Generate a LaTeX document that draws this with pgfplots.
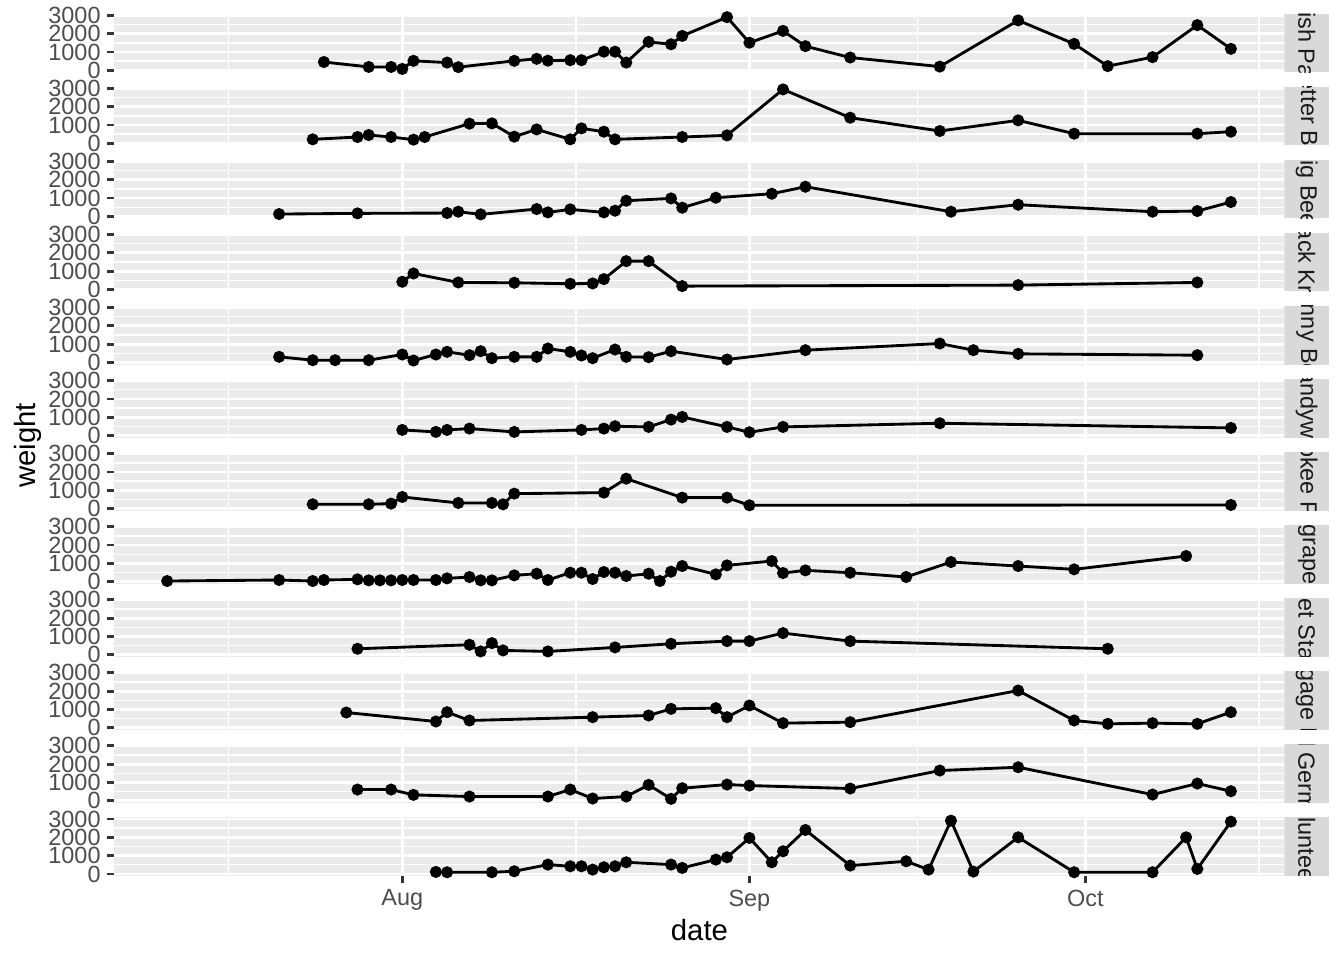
\documentclass[border=0pt]{standalone}
\usepackage{pgfplots}
\pgfplotsset{compat=1.18}
\usepackage{fontspec}
\setmainfont{Liberation Sans}
\definecolor{panelbg}{HTML}{EBEBEB}
\definecolor{stripbg}{HTML}{D9D9D9}
\definecolor{tickc}{HTML}{333333}
\definecolor{ticklab}{HTML}{4D4D4D}
\definecolor{striptext}{HTML}{1A1A1A}
\pgfplotsset{
 ser/.style={black, line width=1.07bp, mark=*, mark size=1.7bp, mark options={solid, fill=black, draw=none}},
 panel/.style={
  scale only axis, width=438.8bp, height=21.98bp, anchor=south west,
  xmin=-25.72, xmax=78.78, ymin=-110, ymax=3090,
  axis background/.style={fill=panelbg},
  axis line style={draw=none},
  xtick={0,31,61}, minor xtick={-15.5,15.5,46,76.5},
  ytick={0,1000,2000,3000}, minor ytick={500,1500,2500},
  xmajorgrids, ymajorgrids, xminorgrids, yminorgrids,
  major grid style={white, line width=1.07bp},
  minor grid style={white, line width=0.53bp},
  tick align=outside, major tick length=2.75bp, minor tick length=0pt,
  tick style={draw=tickc, line width=1.07bp},
  tick pos=left,
  xticklabels={}, x tick style={draw=none},
  /pgf/number format/assume math mode=true,
  /pgf/number format/set thousands separator={},
  yticklabel style={font=\fontsize{8.83}{9}\selectfont, text=ticklab, inner sep=0pt, xshift=-2.2bp},
  clip=false,
 },
 bottompanel/.style={xticklabels={Aug,Sep,Oct}, x tick style={draw=tickc},
  xticklabel style={font=\fontsize{8.83}{9}\selectfont, text=ticklab, inner sep=0pt, yshift=-2.2bp}},
}
\begin{document}
\begin{tikzpicture}
\path[use as bounding box] (0,0) rectangle (504bp,360bp);
% 1 Amish Paste
\begin{axis}[panel, at={(42.86bp,332.89bp)}]
\addplot[ser] coordinates {(-7,452) (-3,181) (-1,181) (0,72) (1,515) (4,420) (5,170) (10,515) (12,625) (13,525) (15,550) (16,550) (18,1015) (19,1015) (20,420) (22,1550) (24,1420) (25,1875) (29,2900) (31,1505) (34,2150) (36,1315) (40,695) (48,200) (55,2725) (60,1440) (63,225) (67,715) (71,2465) (74,1170)};
\end{axis}
% 2 Better Boy
\begin{axis}[panel, at={(42.86bp,305.49bp)}]
\addplot[ser] coordinates {(-8,218) (-4,345) (-3,455) (-1,345) (1,200) (2,345) (6,1073) (8,1090) (10,364) (12,760) (15,218) (16,818) (18,636) (19,218) (25,345) (29,436) (34,2945) (40,1400) (48,673) (55,1255) (60,527) (71,527) (74,636)};
\end{axis}
% 3 Big Beef
\begin{axis}[panel, at={(42.86bp,278.10bp)}]
\addplot[ser] coordinates {(-11,127) (-4,164) (4,182) (5,255) (7,109) (12,400) (13,218) (15,382) (18,218) (19,309) (20,855) (24,982) (25,473) (28,1018) (33,1236) (36,1618) (49,255) (55,636) (67,255) (71,291) (74,782)};
\end{axis}
% 4 Black Krim
\begin{axis}[panel, at={(42.86bp,250.70bp)}]
\addplot[ser] coordinates {(0,418) (1,873) (5,382) (10,364) (15,309) (17,327) (18,564) (20,1545) (22,1545) (25,182) (55,236) (71,382)};
\end{axis}
% 5 Bonny Best
\begin{axis}[panel, at={(42.86bp,223.30bp)}]
\addplot[ser] coordinates {(-11,309) (-8,127) (-6,127) (-3,127) (0,436) (1,109) (3,436) (4,582) (6,400) (7,618) (8,236) (10,309) (12,309) (13,764) (15,582) (16,382) (17,236) (19,709) (20,309) (22,291) (24,618) (29,164) (36,673) (48,1036) (51,673) (55,473) (71,400)};
\end{axis}
% 6 Brandywine
\begin{axis}[panel, at={(42.86bp,195.90bp)}]
\addplot[ser] coordinates {(0,309) (3,200) (4,309) (6,382) (10,200) (16,309) (18,382) (19,509) (22,473) (24,873) (25,1018) (29,473) (31,182) (34,473) (48,673) (74,418)};
\end{axis}
% 7 Cherokee Purple
\begin{axis}[panel, at={(42.86bp,168.51bp)}]
\addplot[ser] coordinates {(-8,236) (-3,236) (-1,273) (0,636) (5,309) (8,309) (9,236) (10,818) (18,873) (20,1636) (25,600) (29,600) (31,182) (74,200)};
\end{axis}
% 8 grape
\begin{axis}[panel, at={(42.86bp,141.11bp)}]
\addplot[ser] coordinates {(-21,36) (-11,91) (-8,36) (-7,91) (-4,127) (-3,73) (-2,73) (-1,73) (0,91) (1,91) (3,91) (4,182) (6,255) (7,73) (8,73) (10,345) (12,436) (13,91) (15,491) (16,491) (17,145) (18,527) (19,491) (20,309) (22,436) (23,36) (24,545) (25,855) (28,400) (29,891) (33,1127) (34,473) (36,618) (40,491) (45,255) (49,1073) (55,855) (60,673) (70,1400)};
\end{axis}
% 9 Jet Star
\begin{axis}[panel, at={(42.86bp,113.71bp)}]
\addplot[ser] coordinates {(-4,327) (6,545) (7,182) (8,636) (9,236) (13,182) (19,400) (24,600) (29,745) (31,745) (34,1182) (40,745) (63,327)};
\end{axis}
% 10 Mortgage Lifter
\begin{axis}[panel, at={(42.86bp,86.31bp)}]
\addplot[ser] coordinates {(-5,836) (3,345) (4,855) (6,400) (17,582) (22,673) (24,1036) (28,1073) (29,582) (31,1218) (34,255) (40,309) (55,2036) (60,400) (63,218) (67,255) (71,218) (74,855)};
\end{axis}
% 11 Old German
\begin{axis}[panel, at={(42.86bp,58.92bp)}]
\addplot[ser] coordinates {(-4,618) (-1,618) (1,327) (6,236) (13,236) (15,618) (17,127) (20,236) (22,873) (24,109) (25,691) (29,891) (31,836) (40,673) (48,1655) (55,1836) (67,345) (71,945) (74,527)};
\end{axis}
% 12 volunteers
\begin{axis}[panel, bottompanel, at={(42.86bp,31.52bp)}]
\addplot[ser] coordinates {(3,109) (4,91) (8,91) (10,145) (13,509) (15,418) (16,418) (17,236) (18,364) (19,418) (20,636) (24,509) (25,327) (28,782) (29,909) (31,1964) (33,636) (34,1236) (36,2400) (40,455) (45,691) (47,236) (49,2909) (51,127) (55,2000) (60,91) (67,91) (70,2000) (71,273) (74,2855)};
\end{axis}
% strips
\foreach \yb/\name in {332.89/Amish Paste, 305.49/Better Boy, 278.10/Big Beef, 250.70/Black Krim, 223.30/Bonny Best, 195.90/Brandywine, 168.51/Cherokee Purple, 141.11/grape, 113.71/Jet Star, 86.31/Mortgage Lifter, 58.92/Old German, 31.52/volunteers}{
  \pgfmathsetmacro\yt{\yb+21.98}
  \pgfmathsetmacro\yc{\yb+10.99}
  \begin{scope}
    \clip (481.66bp,\yb bp) rectangle (498.4bp,\yt bp);
    \fill[stripbg] (481.66bp,\yb bp) rectangle (498.4bp,\yt bp);
    \node[rotate=-90, inner sep=0pt, text=striptext, font=\fontsize{8.83}{9}\selectfont] at (490.03bp,\yc bp) {\name};
  \end{scope}
}
\node[font=\fontsize{11.04}{12}\selectfont] at (262.3bp,11.25bp) {date};
\node[rotate=90, font=\fontsize{11.04}{12}\selectfont] at (10.5bp,192.9bp) {weight};
\end{tikzpicture}
\end{document}
